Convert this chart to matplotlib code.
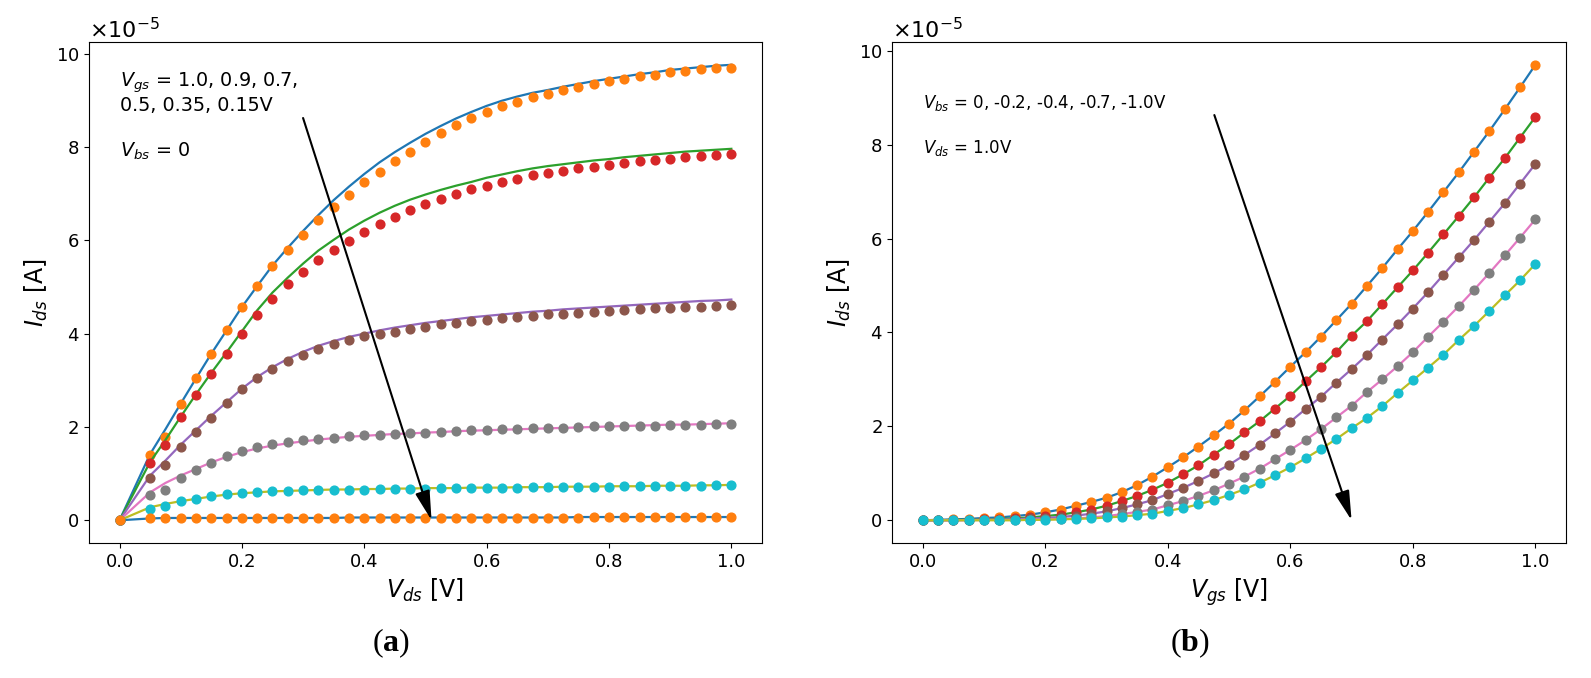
import numpy as np
import matplotlib.pyplot as plt

plt.rcParams['mathtext.fontset'] = 'custom'
plt.rcParams['mathtext.rm'] = 'DejaVu Sans'
plt.rcParams['mathtext.it'] = 'DejaVu Sans:italic'
plt.rcParams['mathtext.bf'] = 'Liberation Serif:bold'

# %% data, currents in units of 1e-5 A

# (a) output characteristics, Vbs = 0
vds = np.concatenate([[0.0], np.linspace(0.05, 1.0, 39)])
vgs_labels = ['1.0', '0.9', '0.7', '0.5', '0.35', '0.15']

ids_sim = [
    [0, 1.42, 1.95, 2.50, 3.04, 3.57, 4.07, 4.57, 5.02, 5.46, 5.84, 6.20, 6.54, 6.86, 7.15, 7.42, 7.67, 7.89, 8.09, 8.28,
     8.45, 8.61, 8.75, 8.88, 8.99, 9.08, 9.16, 9.22, 9.29, 9.35, 9.41, 9.46, 9.51, 9.56, 9.60, 9.65, 9.68, 9.71, 9.74, 9.76],
    [0, 1.25, 1.72, 2.22, 2.70, 3.16, 3.60, 4.05, 4.50, 4.88, 5.20, 5.50, 5.78, 6.01, 6.23, 6.42, 6.59, 6.74, 6.87, 6.98,
     7.08, 7.17, 7.25, 7.34, 7.41, 7.48, 7.54, 7.59, 7.63, 7.67, 7.71, 7.74, 7.78, 7.81, 7.84, 7.87, 7.90, 7.92, 7.94, 7.96],
    [0, 0.96, 1.28, 1.62, 1.93, 2.24, 2.53, 2.82, 3.07, 3.28, 3.46, 3.61, 3.74, 3.84, 3.93, 4.00, 4.07, 4.13, 4.18, 4.23,
     4.27, 4.31, 4.35, 4.38, 4.41, 4.44, 4.47, 4.49, 4.52, 4.54, 4.56, 4.58, 4.60, 4.62, 4.64, 4.66, 4.68, 4.70, 4.71, 4.73],
    [0, 0.60, 0.80, 0.96, 1.10, 1.24, 1.36, 1.46, 1.54, 1.60, 1.65, 1.69, 1.73, 1.76, 1.79, 1.81, 1.83, 1.85, 1.86, 1.88,
     1.89, 1.91, 1.92, 1.93, 1.94, 1.95, 1.96, 1.97, 1.98, 1.99, 2.00, 2.01, 2.02, 2.03, 2.04, 2.05, 2.05, 2.06, 2.07, 2.08],
    [0, 0.28, 0.35, 0.41, 0.46, 0.51, 0.55, 0.58, 0.60, 0.62, 0.63, 0.64, 0.65, 0.66, 0.66, 0.67, 0.67, 0.68, 0.68, 0.69,
     0.69, 0.69, 0.70, 0.70, 0.70, 0.71, 0.71, 0.71, 0.72, 0.72, 0.72, 0.73, 0.73, 0.73, 0.74, 0.74, 0.74, 0.75, 0.75, 0.76],
    [0, 0.04, 0.05, 0.05, 0.05, 0.05, 0.05, 0.05, 0.05, 0.05, 0.05, 0.05, 0.05, 0.05, 0.06, 0.06, 0.06, 0.06, 0.06, 0.06,
     0.06, 0.06, 0.06, 0.06, 0.06, 0.06, 0.06, 0.06, 0.06, 0.07, 0.07, 0.07, 0.07, 0.07, 0.07, 0.07, 0.07, 0.07, 0.07, 0.07],
]
ids_meas = [
    [0, 1.39, 1.78, 2.50, 3.05, 3.57, 4.07, 4.57, 5.02, 5.44, 5.80, 6.12, 6.44, 6.72, 6.98, 7.24, 7.47, 7.69, 7.90, 8.11,
     8.29, 8.46, 8.61, 8.74, 8.87, 8.97, 9.07, 9.14, 9.22, 9.29, 9.35, 9.41, 9.46, 9.51, 9.55, 9.60, 9.63, 9.66, 9.69, 9.70],
    [0, 1.23, 1.61, 2.21, 2.68, 3.13, 3.57, 4.00, 4.39, 4.74, 5.06, 5.33, 5.58, 5.80, 5.99, 6.17, 6.34, 6.50, 6.65, 6.77,
     6.89, 7.00, 7.09, 7.17, 7.25, 7.32, 7.39, 7.44, 7.49, 7.54, 7.58, 7.62, 7.66, 7.69, 7.72, 7.75, 7.78, 7.81, 7.82, 7.84],
    [0, 0.91, 1.18, 1.58, 1.89, 2.20, 2.52, 2.81, 3.05, 3.25, 3.42, 3.55, 3.68, 3.78, 3.86, 3.94, 4.00, 4.04, 4.09, 4.15,
     4.20, 4.23, 4.28, 4.30, 4.33, 4.35, 4.38, 4.41, 4.43, 4.45, 4.47, 4.49, 4.50, 4.53, 4.54, 4.55, 4.57, 4.58, 4.60, 4.62],
    [0, 0.55, 0.66, 0.91, 1.07, 1.23, 1.37, 1.48, 1.56, 1.63, 1.67, 1.71, 1.74, 1.77, 1.80, 1.82, 1.83, 1.85, 1.87, 1.88,
     1.90, 1.91, 1.93, 1.94, 1.95, 1.96, 1.97, 1.98, 1.98, 2.00, 2.01, 2.02, 2.02, 2.03, 2.03, 2.04, 2.04, 2.05, 2.06, 2.06],
    [0, 0.25, 0.31, 0.41, 0.46, 0.52, 0.56, 0.59, 0.61, 0.62, 0.63, 0.64, 0.64, 0.65, 0.66, 0.66, 0.67, 0.67, 0.68, 0.68,
     0.69, 0.69, 0.69, 0.70, 0.70, 0.70, 0.71, 0.71, 0.71, 0.72, 0.72, 0.72, 0.73, 0.73, 0.73, 0.74, 0.74, 0.74, 0.75, 0.75],
    [0, 0.04, 0.05, 0.05, 0.05, 0.05, 0.05, 0.05, 0.05, 0.05, 0.05, 0.05, 0.05, 0.05, 0.05, 0.06, 0.06, 0.06, 0.06, 0.06,
     0.06, 0.06, 0.06, 0.06, 0.06, 0.06, 0.06, 0.06, 0.06, 0.06, 0.07, 0.07, 0.07, 0.07, 0.07, 0.07, 0.07, 0.07, 0.07, 0.07],
]

# (b) transfer characteristics, Vds = 1.0V
vgs = np.linspace(0.0, 1.0, 41)
vbs_labels = ['0', '-0.2', '-0.4', '-0.7', '-1.0']
ids_b = [
    [0, 0.01, 0.02, 0.03, 0.05, 0.06, 0.09, 0.12, 0.17, 0.23, 0.31, 0.39, 0.48, 0.60, 0.75, 0.93, 1.13, 1.34, 1.57, 1.81,
     2.06, 2.34, 2.64, 2.95, 3.27, 3.58, 3.91, 4.26, 4.61, 4.99, 5.37, 5.77, 6.16, 6.57, 6.99, 7.41, 7.85, 8.29, 8.75, 9.22, 9.70],
    [0, 0, 0.01, 0.01, 0.02, 0.03, 0.04, 0.06, 0.09, 0.12, 0.17, 0.23, 0.31, 0.41, 0.52, 0.65, 0.80, 0.98, 1.17, 1.40,
     1.62, 1.87, 2.11, 2.38, 2.65, 2.96, 3.26, 3.58, 3.93, 4.24, 4.60, 4.96, 5.32, 5.70, 6.09, 6.48, 6.88, 7.30, 7.71, 8.15, 8.59],
    [0, 0, 0, 0.01, 0.01, 0.01, 0.02, 0.04, 0.05, 0.07, 0.10, 0.14, 0.19, 0.26, 0.34, 0.43, 0.56, 0.69, 0.84, 1.00,
     1.18, 1.39, 1.61, 1.85, 2.10, 2.37, 2.63, 2.93, 3.22, 3.52, 3.85, 4.17, 4.51, 4.86, 5.23, 5.60, 5.97, 6.36, 6.75, 7.17, 7.59],
    [0, 0, 0, 0, 0.01, 0.01, 0.01, 0.01, 0.02, 0.03, 0.04, 0.06, 0.09, 0.13, 0.18, 0.23, 0.32, 0.41, 0.52, 0.64,
     0.78, 0.93, 1.10, 1.30, 1.50, 1.71, 1.94, 2.19, 2.44, 2.73, 3.00, 3.28, 3.58, 3.91, 4.23, 4.56, 4.91, 5.27, 5.64, 6.02, 6.41],
    [0, 0, 0, 0, 0, 0, 0, 0.01, 0.01, 0.02, 0.03, 0.04, 0.06, 0.08, 0.11, 0.14, 0.20, 0.26, 0.34, 0.43,
     0.54, 0.66, 0.80, 0.96, 1.13, 1.32, 1.52, 1.73, 1.96, 2.18, 2.43, 2.71, 2.98, 3.25, 3.53, 3.84, 4.14, 4.46, 4.79, 5.11, 5.46],
]

# %% plot

fig = plt.figure(figsize=(15.91, 6.78), dpi=100)
ax1 = fig.add_axes([0.0559, 0.199, 0.423, 0.739])
ax2 = fig.add_axes([0.5607, 0.199, 0.4236, 0.739])

arrow = dict(arrowstyle='-|>,head_length=1.8,head_width=0.45', color='k', lw=1.5,
             shrinkA=0, shrinkB=0, mutation_scale=10)

for i in range(len(vgs_labels)):
    ax1.plot(vds, np.array(ids_sim[i]) * 1e-5, color=f'C{(2 * i) % 10}', lw=1.6)
    ax1.plot(vds, np.array(ids_meas[i]) * 1e-5, 'o', color=f'C{(2 * i + 1) % 10}', ms=6.3)

for i in range(len(vbs_labels)):
    ax2.plot(vgs, np.array(ids_b[i]) * 1e-5, color=f'C{2 * i}', lw=1.6)
    ax2.plot(vgs, np.array(ids_b[i]) * 1e-5, 'o', color=f'C{2 * i + 1}', ms=6.3)

ax1.text(0.0, 9.29e-5, '$V_{gs}$ = ' + ', '.join(vgs_labels[:3]) + ',', fontsize=13.8, va='baseline')
ax1.text(0.0, 8.78e-5, ', '.join(vgs_labels[3:]) + 'V', fontsize=13.8, va='baseline')
ax1.text(0.0, 7.80e-5, '$V_{bs}$ = 0', fontsize=13.8, va='baseline')
ax1.annotate('', xy=(0.51, 0.0), xytext=(0.30, 8.62e-5), arrowprops=arrow)

ax2.text(0.0, 8.78e-5, '$V_{bs}$ = ' + ', '.join(vbs_labels) + 'V', fontsize=12, va='baseline')
ax2.text(0.0, 7.82e-5, '$V_{ds}$ = 1.0V', fontsize=12, va='baseline')
ax2.annotate('', xy=(0.70, 0.0), xytext=(0.476, 8.63e-5), arrowprops=arrow)

for ax, xl in [(ax1, '$V_{ds}$ [V]'), (ax2, '$V_{gs}$ [V]')]:
    ax.set_xlabel(xl, fontsize=17)
    ax.set_ylabel('$I_{ds}$ [A]', fontsize=17)
    ax.set_xticks([0, 0.2, 0.4, 0.6, 0.8, 1.0])
    ax.set_yticks(np.array([0, 2, 4, 6, 8, 10]) * 1e-5)
    ax.ticklabel_format(axis='y', style='sci', scilimits=(-5, -5), useMathText=True)
    ax.tick_params(labelsize=13)
    ax.yaxis.get_offset_text().set_fontsize(16)

fig.text(0.2457, 0.04, r'($\mathbf{a}$)', fontsize=23, family='Liberation Serif', ha='center', va='baseline')
fig.text(0.748, 0.04, r'($\mathbf{b}$)', fontsize=23, family='Liberation Serif', ha='center', va='baseline')

fig.savefig('out.png', dpi=100)
